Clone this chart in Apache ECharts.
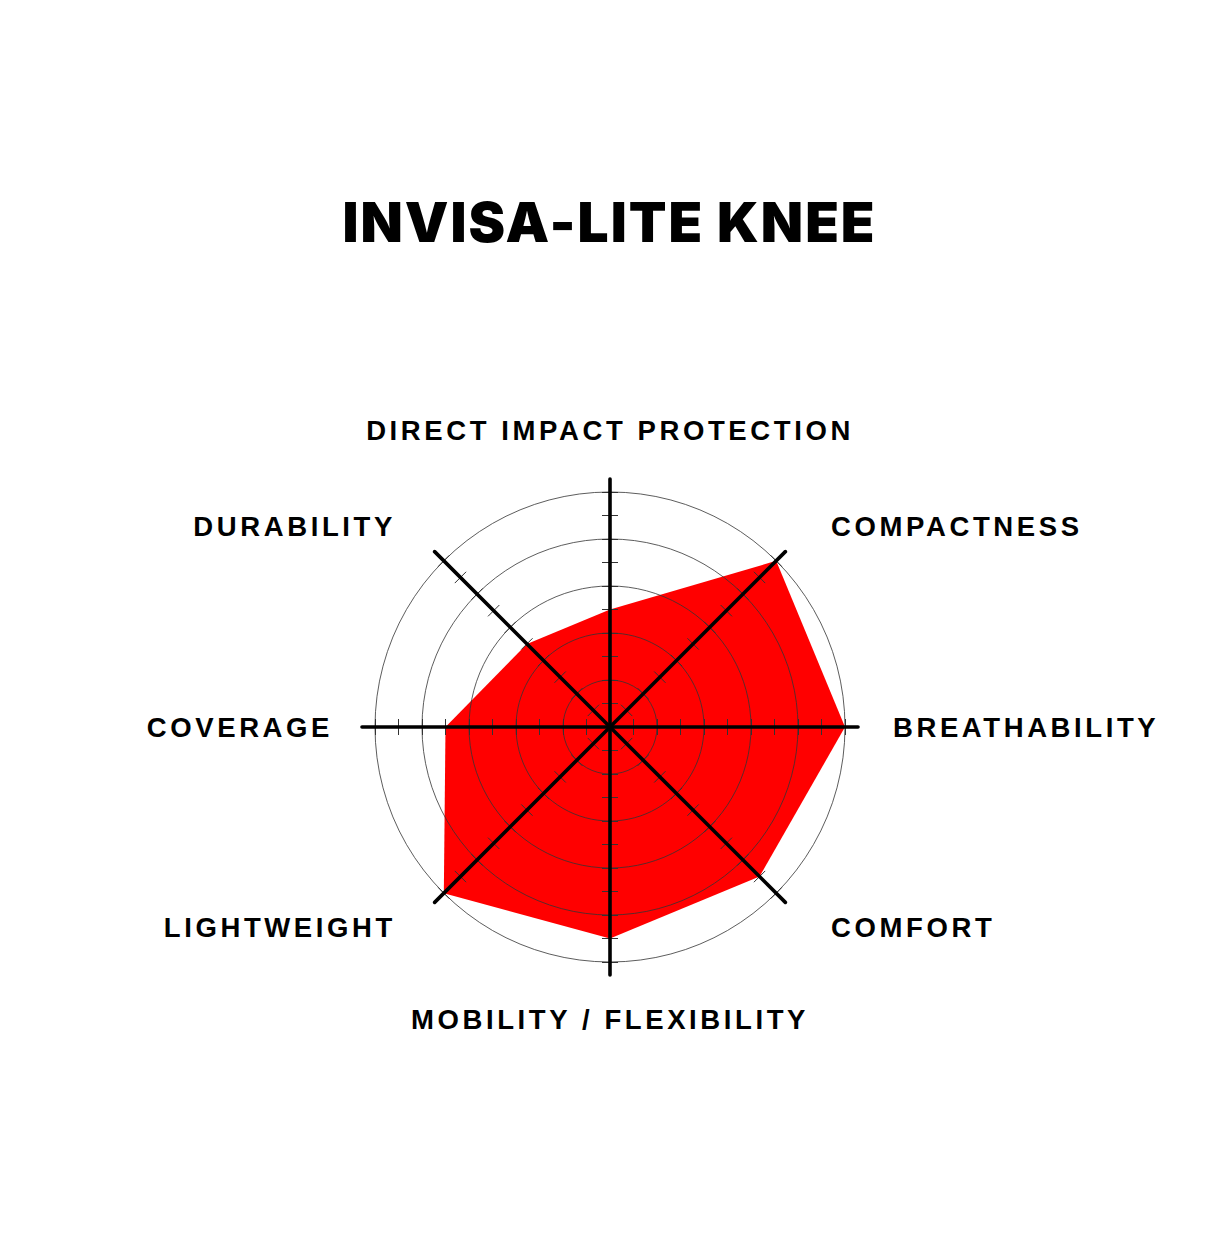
<!DOCTYPE html>
<html>
<head>
<meta charset="utf-8">
<script src="https://cdn.jsdelivr.net/npm/echarts@6/dist/echarts.min.js"></script>
<style>
  html, body { margin: 0; padding: 0; background: #fff; }
  #chart { width: 1219px; height: 1233px; }
  #chart text[style*="Liberation"] { letter-spacing: 3.6px; }
  #chart text[style*="Inter"] { letter-spacing: 2px; }
</style>
</head>
<body>
<div id="chart"></div>
<script>
// Indicators in ECharts order (counter-clockwise starting from the top)
const indicatorNames = [
  'DIRECT IMPACT PROTECTION',
  'DURABILITY',
  'COVERAGE',
  'LIGHTWEIGHT',
  'MOBILITY / FLEXIBILITY',
  'COMFORT',
  'BREATHABILITY',
  'COMPACTNESS'
];
const scores = [5, 5, 7, 10, 9, 9, 10, 10];
const maxScore = 10;
const labelSide = ['n', 'nw', 'w', 'nw', 's', 'ne', 'e', 'ne'];
const titleText = 'INVISA-LITE KNEE';

const chart = echarts.init(document.getElementById('chart'), null, { renderer: 'svg' });

const CENTER = [610, 727];
const R = 235;
const indicators = indicatorNames.map(n => ({ name: n, min: 0, max: maxScore }));
const blankIndicators = indicatorNames.map(() => ({ name: '', min: 0, max: maxScore }));

const labelFont = { fontFamily: 'Liberation Sans', fontWeight: 'bold', fontSize: 27.5, color: '#000' };

const option = {
  backgroundColor: '#fff',
  animation: false,
  title: {
    text: titleText,
    left: 'center',
    top: 189,
    textStyle: { fontFamily: 'Inter', fontWeight: 900, fontSize: 55, color: '#000' }
  },
  radar: [
    {
      center: CENTER, radius: R, startAngle: 90, shape: 'circle', splitNumber: 10,
      indicator: indicators,
      nameGap: 48,
      axisName: Object.assign({
        show: true,
        formatter: function (name) {
          const i = indicatorNames.indexOf(name);
          return '{' + labelSide[i] + '|' + name + '}';
        },
        rich: {
          n: Object.assign({}, labelFont),
          s: Object.assign({ padding: [-5, 0, 0, 0] }, labelFont),
          e: Object.assign({}, labelFont),
          w: Object.assign({ padding: [0, -6, 0, 0] }, labelFont),
          ne: Object.assign({ padding: [0, 0, 0, 21] }, labelFont),
          nw: Object.assign({ padding: [0, 14, 0, 0] }, labelFont)
        }
      }, labelFont),
      axisLine: { show: false },
      axisTick: { show: true, length: 8, lineStyle: { color: '#333', width: 1 } },
      splitLine: { show: true, lineStyle: { color: ['#333', 'rgba(0,0,0,0)'], width: 0.8 } },
      splitArea: { show: false },
      z: 5
    },
    {
      center: CENTER, radius: R, startAngle: 90, shape: 'circle', splitNumber: 10,
      indicator: blankIndicators,
      axisName: { show: false },
      axisLine: { show: false },
      axisTick: { show: true, length: -8, lineStyle: { color: '#333', width: 1 } },
      splitLine: { show: false },
      splitArea: { show: false },
      z: 5
    },
    {
      center: CENTER, radius: 248, startAngle: 90, shape: 'circle', splitNumber: 10,
      indicator: blankIndicators,
      axisName: { show: false },
      axisLine: { show: true, lineStyle: { color: '#000', width: 3.6 } },
      axisTick: { show: false },
      splitLine: { show: false },
      splitArea: { show: false },
      z: 6
    }
  ],
  series: [
    {
      type: 'radar',
      radarIndex: 0,
      z: 2,
      silent: true,
      symbol: 'none',
      lineStyle: { width: 0, opacity: 0 },
      areaStyle: { color: '#ff0000', opacity: 1 },
      data: [{ value: scores, name: titleText }]
    }
  ]
};
chart.setOption(option);
</script>
</body>
</html>
